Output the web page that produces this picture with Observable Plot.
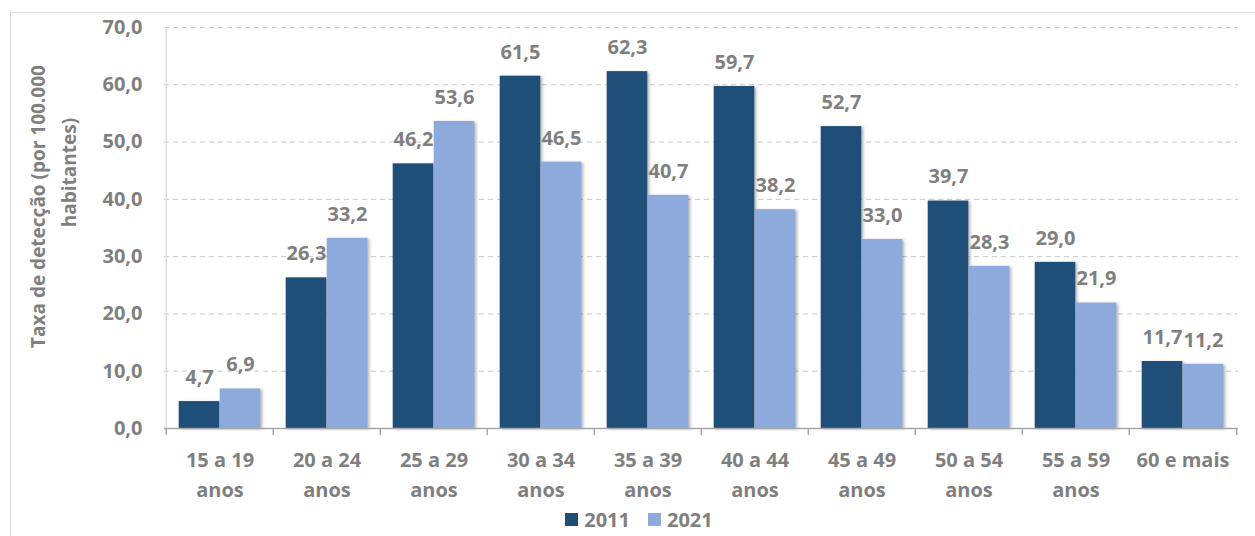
<!DOCTYPE html>
<html>
<head>
<meta charset="utf-8">
<script src="https://cdn.jsdelivr.net/npm/d3@7"></script>
<script src="https://cdn.jsdelivr.net/npm/@observablehq/plot@0.6"></script>
<style>
  html, body { margin: 0; padding: 0; background: #fff; overflow: hidden; }
  body { width: 1255px; height: 536px; position: relative; font-family: "Open Sans", sans-serif; }
  #frame { position: absolute; left: 10px; top: 12px; width: 1400px; height: 700px; border: 1.5px solid #dcdcdc; }
  #chart { position: absolute; left: 0; top: 0; }
  #chart svg g[aria-label="bar"] { filter: drop-shadow(2px 1px 1.5px rgba(0,0,0,0.28)); }
  #legend { position: absolute; left: 0; top: 508px; width: 1255px; height: 22px; line-height: 22px; display: flex; justify-content: center; align-items: center; font: bold 20px "Open Sans", sans-serif; color: #7f7f7f; padding-left: 23px; box-sizing: border-box; }
  #legend .sw { display: inline-block; width: 13px; height: 13px; margin-right: 6px; }
  #legend .item { display: flex; align-items: center; margin: 0 9px; }
</style>
</head>
<body>
<div id="frame"></div>
<div id="chart"></div>
<div id="legend"></div>
<script>
const categories = ["15 a 19\nanos", "20 a 24\nanos", "25 a 29\nanos", "30 a 34\nanos", "35 a 39\nanos",
                    "40 a 44\nanos", "45 a 49\nanos", "50 a 54\nanos", "55 a 59\nanos", "60 e mais"];
const series = ["2011", "2021"];
const values2011 = [4.7, 26.3, 46.2, 61.5, 62.3, 59.7, 52.7, 39.7, 29.0, 11.7];
const values2021 = [6.9, 33.2, 53.6, 46.5, 40.7, 38.2, 33.0, 28.3, 21.9, 11.2];
const yTicks = [0, 10, 20, 30, 40, 50, 60, 70];
const colors = ["#1f4e79", "#8eaadc"];
const yTitleLines = ["Taxa de detecção (por 100.000", "habitantes)"];

const rows = [];
categories.forEach((c, i) => {
  rows.push({cat: c, year: series[0], value: values2011[i]});
  rows.push({cat: c, year: series[1], value: values2021[i]});
});
const d2011 = rows.filter(d => d.year === series[0]);
const d2021 = rows.filter(d => d.year === series[1]);

const W = 1255, H = 508, ML = 164, MR = 17, MT = 27, MB = 80;
const step = (W - ML - MR) / categories.length;
const barW = 41;
const outer = (step - 2 * barW) / 2;
const fmt = d => d.toFixed(1).replace(".", ",");
const grey = "#7f7f7f";
const FS = 20;
const midY = (MT + H - MB) / 2;

const plot = Plot.plot({
  width: W,
  height: H,
  marginLeft: ML,
  marginRight: MR,
  marginTop: MT,
  marginBottom: MB,
  style: {fontFamily: "'Open Sans', sans-serif", fontSize: FS + "px", fontWeight: "bold", color: grey, background: "transparent"},
  x: {domain: categories, padding: 0, label: null},
  y: {domain: [0, 70], label: null},
  marks: [
    Plot.ruleY(yTicks.filter(t => t > 0), {y: d => d, stroke: "#c8c8c8", strokeDasharray: "5,4", strokeWidth: 1}),
    Plot.ruleX([categories[0]], {x: d => d, dx: -step / 2, stroke: "#dcdcdc", strokeWidth: 1.5}),
    Plot.barY(d2011, {x: "cat", y: "value", fill: colors[0], insetLeft: outer, insetRight: outer + barW}),
    Plot.barY(d2021, {x: "cat", y: "value", fill: colors[1], insetLeft: outer + barW, insetRight: outer}),
    Plot.ruleY([0], {stroke: "#a6a6a6", strokeWidth: 1.5}),
    Plot.ruleX(categories, {x: d => d, dx: -step / 2, y1: 0, y2: 0, insetBottom: -7, stroke: "#a6a6a6", strokeWidth: 1.5}),
    Plot.ruleX([categories[categories.length - 1]], {x: d => d, dx: step / 2, y1: 0, y2: 0, insetBottom: -7, stroke: "#a6a6a6", strokeWidth: 1.5}),
    Plot.text(d2011, {x: "cat", y: "value", text: d => fmt(d.value), dx: -(barW / 2), dy: -24, fill: grey, fontWeight: "bold", fontSize: FS}),
    Plot.text(d2021, {x: "cat", y: "value", text: d => fmt(d.value), dx: barW / 2, dy: -24, fill: grey, fontWeight: "bold", fontSize: FS}),
    Plot.axisY({ticks: yTicks, tickSize: 0, tickPadding: 22, tickFormat: fmt, fill: grey, fontSize: FS, label: null}),
    Plot.axisX({tickSize: 0, tickPadding: 17, lineHeight: 1.5, fill: grey, fontSize: FS, label: null}),
    Plot.text([yTitleLines[0]], {frameAnchor: "left", text: d => d, rotate: -90, textAnchor: "middle", lineAnchor: "middle", dx: 38 - ML, dy: 206 - midY, fill: grey, fontSize: 19, fontWeight: "bold"}),
    Plot.text([yTitleLines[1]], {frameAnchor: "left", text: d => d, rotate: -90, textAnchor: "middle", lineAnchor: "middle", dx: 69 - ML, dy: 172 - midY, fill: grey, fontSize: 19, fontWeight: "bold"})
  ]
});
document.getElementById("chart").appendChild(plot);

const legend = document.getElementById("legend");
series.forEach((s, i) => {
  const item = document.createElement("span");
  item.className = "item";
  const sw = document.createElement("span");
  sw.className = "sw";
  sw.style.background = colors[i];
  item.appendChild(sw);
  item.appendChild(document.createTextNode(s));
  legend.appendChild(item);
});
</script>
</body>
</html>
